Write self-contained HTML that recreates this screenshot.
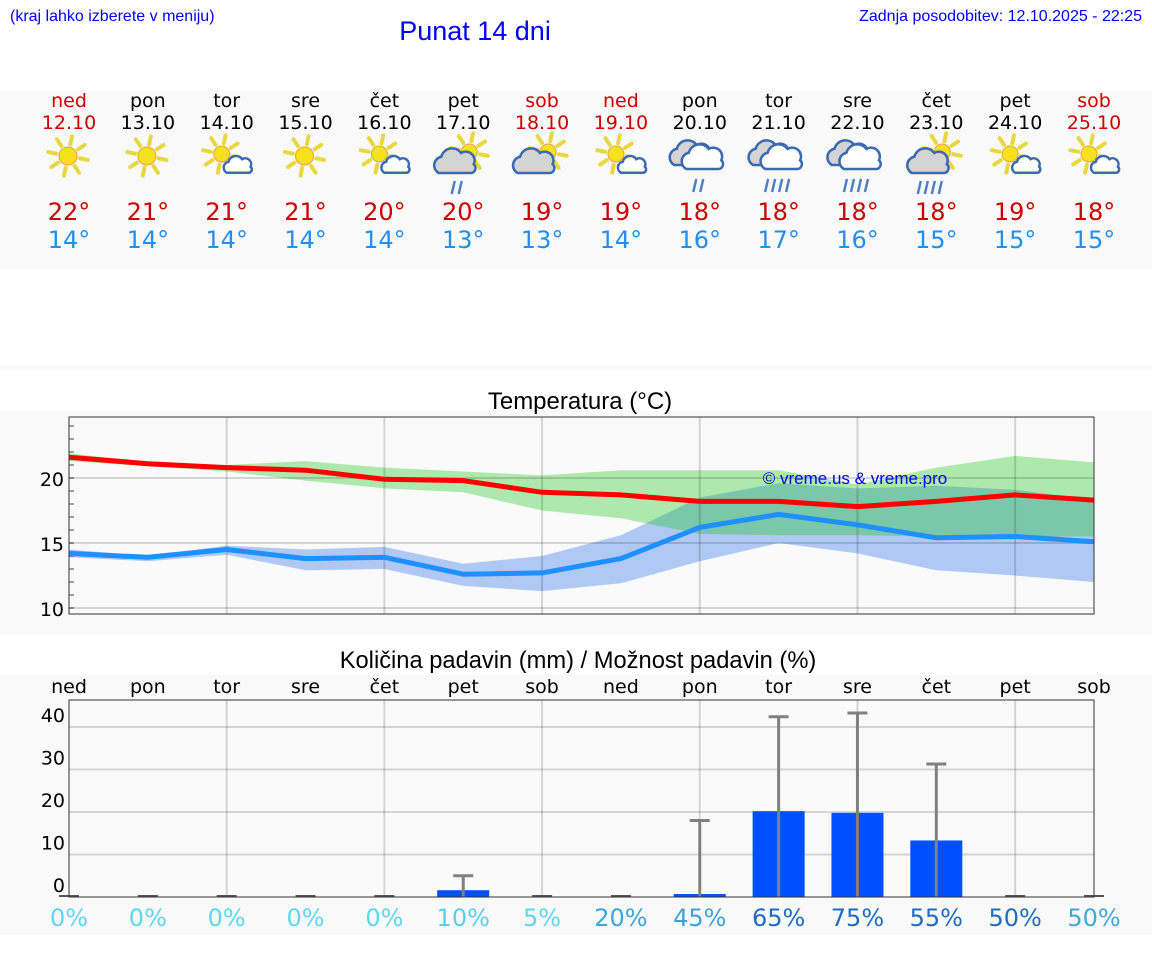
<!DOCTYPE html>
<html><head><meta charset="utf-8"><style>
body{margin:0;background:#fff;width:1152px;height:975px;overflow:hidden}
svg{display:block}
.lib{font-family:"Liberation Sans",sans-serif}
.dv{font-family:"DejaVu Sans","Liberation Sans",sans-serif}
</style></head><body>
<svg id="s" width="1152" height="975" xmlns="http://www.w3.org/2000/svg">
<rect x="0" y="90" width="1152" height="180" fill="#f9f9f9"/>
<rect x="0" y="365" width="1152" height="5" fill="#f9f9f9"/>
<rect x="0" y="410" width="1152" height="225" fill="#f9f9f9"/>
<rect x="0" y="675" width="1152" height="260" fill="#f9f9f9"/>
<text x="10" y="21" class="lib" font-size="16" fill="#0000ff">(kraj lahko izberete v meniju)</text>
<text x="475" y="40" class="lib" font-size="27" fill="#0000ff" text-anchor="middle">Punat 14 dni</text>
<text x="1142" y="21" class="lib" font-size="16" fill="#0000ff" text-anchor="end">Zadnja posodobitev: 12.10.2025 - 22:25</text>
<text x="580" y="409" class="lib" font-size="24" fill="#000" text-anchor="middle">Temperatura (°C)</text>
<text x="578" y="668" class="lib" font-size="23.7" fill="#000" text-anchor="middle">Količina padavin (mm) / Možnost padavin (%)</text>
<g id="daily"></g>
<g id="temp"></g>
<g id="prec"></g>
<text x="855" y="484" class="lib" font-size="17" fill="#0000ff" text-anchor="middle">© vreme.us &amp; vreme.pro</text>
</svg>
<script>
const days=["ned","pon","tor","sre","čet","pet","sob","ned","pon","tor","sre","čet","pet","sob"];
const dates=["12.10","13.10","14.10","15.10","16.10","17.10","18.10","19.10","20.10","21.10","22.10","23.10","24.10","25.10"];
const weekend=[1,0,0,0,0,0,1,1,0,0,0,0,0,1];
const icons=["sun","sun","suncloud","sun","suncloud","sunbig2","sunbig0","suncloud","cloud2","cloud4","cloud4","sunbig4","suncloud","suncloud"];
const maxT=[22,21,21,21,20,20,19,19,18,18,18,18,19,18];
const minT=[14,14,14,14,14,13,13,14,16,17,16,15,15,15];
const maxLine=[21.6,21.1,20.8,20.6,19.9,19.8,18.9,18.7,18.2,18.2,17.8,18.2,18.7,18.3];
const maxHi=[21.9,21.2,21.0,21.3,20.8,20.5,20.2,20.6,20.6,20.6,19.5,20.8,21.7,21.2];
const maxLo=[21.3,20.9,20.5,19.8,19.2,18.9,17.5,16.9,15.7,15.6,15.6,15.5,15.5,15.5];
const minLine=[14.2,13.9,14.5,13.8,13.9,12.6,12.7,13.8,16.2,17.2,16.4,15.4,15.5,15.1];
const minHi=[14.5,14.0,14.8,14.5,14.7,13.4,14.0,15.6,18.5,19.6,19.2,19.4,19.1,18.3];
const minLo=[13.9,13.6,14.1,12.9,13.0,11.7,11.3,11.9,13.6,15.0,14.2,12.9,12.5,12.0];
const tempTicks=[10,15,20];
const precAmt=[0,0,0,0,0,1.6,0,0,0.7,20.2,19.8,13.3,0,0];
const precMax=[0,0,0,0,0,5,0,0,18,42.4,43.3,31.3,0,0];
const precPct=[0,0,0,0,0,10,5,20,45,65,75,55,50,50];
const precTicks=[0,10,20,30,40];
const NS="http://www.w3.org/2000/svg";
function mk(tag,attrs,parent,txt){const e=document.createElementNS(NS,tag);for(const k in attrs)e.setAttribute(k,attrs[k]);if(txt!==undefined)e.textContent=txt;parent.appendChild(e);return e;}
const X0=69,X1=1094;
const xs=i=>X0+i*(X1-X0)/13;
const D=document.getElementById('daily');
function sun(g,cx,cy,r){
  for(let k=0;k<8;k++){const a=k*Math.PI/4+0.2;mk('line',{x1:cx+Math.cos(a)*(r+3),y1:cy+Math.sin(a)*(r+3),x2:cx+Math.cos(a)*(r+11),y2:cy+Math.sin(a)*(r+11),stroke:'#e8d840','stroke-width':4,'stroke-linecap':'round'},g);}
  mk('circle',{cx:cx,cy:cy,r:r,fill:'#f6e21c',stroke:'#e8a040','stroke-width':1},g);
}
function cloud(g,cx,cy,s,fill){
  const p=`M${cx-14*s} ${cy+8*s} a${7*s} ${7*s} 0 0 1 ${2*s} ${-13*s} a${9*s} ${9*s} 0 0 1 ${16*s} ${-3*s} a${7*s} ${7*s} 0 0 1 ${10*s} ${9*s} a${4*s} ${4*s} 0 0 1 ${-2*s} ${7*s} Z`;
  mk('path',{d:p,fill:fill,stroke:'#3a6ab0','stroke-width':2.5},g);
}
function rain(g,cx,cy,n){for(let k=0;k<n;k++){mk('line',{x1:cx-(n-1)*3.5+k*7+2,y1:cy,x2:cx-(n-1)*3.5+k*7-1,y2:cy+13,stroke:'#5080c0','stroke-width':2.5},g);}}
for(let i=0;i<14;i++){
  const x=xs(i),col=weekend[i]?'#cc0000':'#000';
  const g=mk('g',{},D);
  
  
  mk('text',{x:x,y:107,'font-size':19,'text-anchor':'middle',fill:col,class:'dv'},g,days[i]);
  mk('text',{x:x,y:129,'font-size':19,'text-anchor':'middle',fill:col,class:'dv'},g,dates[i]);
  const ig=mk('g',{},g);
  
  
  const t=icons[i],cy=158;
  if(t==='sun'){sun(ig,x-1,cy-2,9);}
  else if(t==='suncloud'){sun(ig,x-5,cy-4,8);cloud(ig,x+12,cy+8,0.85,'#fff');}
  else if(t.startsWith('sunbig')){sun(ig,x+6,cy-6,8);cloud(ig,x-7,cy+5,1.25,'#d4d4d4');rain(ig,x-7,cy+23,+t.slice(6));}
  else {cloud(ig,x-8,cy-3,1.25,'#d4d4d4');cloud(ig,x+4,cy+1,1.25,'#fff');rain(ig,x-2,cy+21,+t.slice(5));}
  mk('text',{x:x,y:220,'font-size':24,'text-anchor':'middle',fill:'#cc0000',class:'dv'},g,maxT[i]+'°');
  mk('text',{x:x,y:248,'font-size':24,'text-anchor':'middle',fill:'#2090f0',class:'dv'},g,minT[i]+'°');
}
const T=document.getElementById('temp');
const TY0=417,TY1=614;
const ty=v=>478-(v-20)*13;
mk('rect',{x:X0,y:TY0,width:X1-X0,height:TY1-TY0,fill:'#fafafa'},T);
const band=(hi,lo)=>{let d='';hi.forEach((v,i)=>d+=(i?'L':'M')+xs(i)+' '+ty(v));for(let i=lo.length-1;i>=0;i--)d+='L'+xs(i)+' '+ty(lo[i]);return d+'Z';};
const line=a=>a.map((v,i)=>(i?'L':'M')+xs(i)+' '+ty(v)).join('');
let e=mk('path',{d:band(minHi,minLo),fill:'#b0c8f4'},T);


e=mk('path',{d:band(maxHi,maxLo),fill:'rgba(12,200,12,0.32)'},T);


for(let v=10;v<=24;v++){mk('line',{x1:X0,x2:X0+5,y1:ty(v),y2:ty(v),stroke:'#444','stroke-width':1},T);}
tempTicks.forEach(v=>{mk('line',{x1:X0,x2:X1,y1:ty(v),y2:ty(v),stroke:'rgba(0,0,0,0.15)','stroke-width':2},T);
  const l=mk('text',{x:X0-5,y:ty(v)+8,'font-size':19,'text-anchor':'end',class:'dv'},T,v);
  
  });
for(let i=2;i<14;i+=2)mk('line',{x1:xs(i),x2:xs(i),y1:TY0,y2:TY1,stroke:'rgba(0,0,0,0.15)','stroke-width':2},T);
e=mk('path',{d:line(maxLine),fill:'none',stroke:'#ff0000','stroke-width':5,'stroke-linejoin':'round'},T);


e=mk('path',{d:line(minLine),fill:'none',stroke:'#1e90ff','stroke-width':5,'stroke-linejoin':'round'},T);


mk('rect',{x:X0,y:TY0,width:X1-X0,height:TY1-TY0,fill:'none',stroke:'#333','stroke-width':1},T);
const P=document.getElementById('prec');
const PY0=700,PY1=897;
const py=v=>PY1-v*4.25;
mk('rect',{x:X0,y:PY0,width:X1-X0,height:PY1-PY0,fill:'#fafafa'},P);
precTicks.forEach(v=>{if(v>0)mk('line',{x1:X0,x2:X1,y1:py(v),y2:py(v),stroke:'rgba(0,0,0,0.15)','stroke-width':2},P);
  const l=mk('text',{x:X0-4,y:py(v)-5,'font-size':19,'text-anchor':'end',class:'dv'},P,v);
  
  });
for(let i=2;i<14;i+=2)mk('line',{x1:xs(i),x2:xs(i),y1:PY0,y2:PY1,stroke:'rgba(0,0,0,0.15)','stroke-width':2},P);
const pctCol=p=>p<=5?'#60d8ec':p<=10?'#58d0ea':p<=20?'#3aa8dc':p<=45?'#40a0d8':'#1f6cc0';
for(let i=0;i<14;i++){
  const x=xs(i);
  mk('text',{x:x,y:693,'font-size':19,'text-anchor':'middle',class:'dv'},P,days[i]);
  if(precAmt[i]>0){
    const b=mk('rect',{x:x-26,y:py(precAmt[i]),width:52,height:PY1-py(precAmt[i]),fill:'#0050ff'},P);
    
    
  } else mk('line',{x1:x-10,x2:x+10,y1:PY1-1,y2:PY1-1,stroke:'#555','stroke-width':2},P);
  if(precMax[i]>0){
    mk('line',{x1:x,x2:x,y1:PY1,y2:py(precMax[i]),stroke:'#808080','stroke-width':3},P);
    const c=mk('line',{x1:x-10,x2:x+10,y1:py(precMax[i]),y2:py(precMax[i]),stroke:'#808080','stroke-width':3},P);
    
    
  }
  let last=(i===13)?'#40a8dc':pctCol(precPct[i]);
  const t=mk('text',{x:x,y:926,'font-size':24,'text-anchor':'middle',fill:last,class:'dv'},P,precPct[i]+'%');
  
  
}
mk('rect',{x:X0,y:PY0,width:X1-X0,height:PY1-PY0,fill:'none',stroke:'#333','stroke-width':1},P);
</script>
</body></html>
